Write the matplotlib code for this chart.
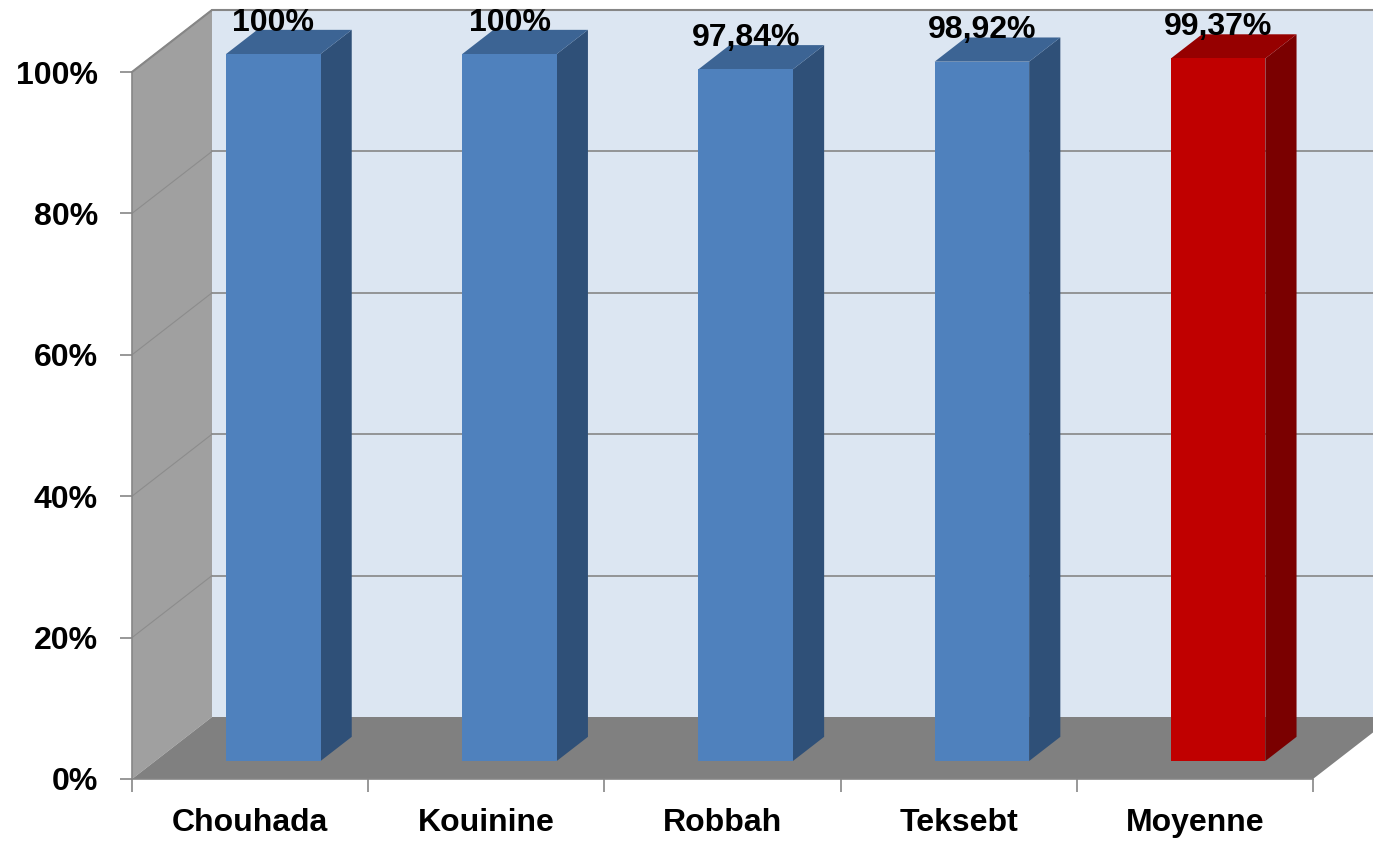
import matplotlib
matplotlib.use("Agg")
import matplotlib.pyplot as plt
from matplotlib.patches import Polygon

plt.rcParams['font.family'] = ['Liberation Sans', 'DejaVu Sans']

categories = ["Chouhada", "Kouinine", "Robbah", "Teksebt", "Moyenne"]
values = [100.0, 100.0, 97.84, 98.92, 99.37]
labels = ["100%", "100%", "97,84%", "98,92%", "99,37%"]
yticks = [0, 20, 40, 60, 80, 100]
ytick_labels = ["0%", "20%", "40%", "60%", "80%", "100%"]

# colours (front, side, top)
blue = ("#4F81BD", "#2F5078", "#3C6494")
red = ("#C00000", "#7A0000", "#960000")
bar_colors = [blue, blue, blue, blue, red]

W, H = 1373, 848
fig = plt.figure(figsize=(W / 100, H / 100), dpi=100)
# front plane of the 3D box
x0p, x1p, y0p, y1p = 132, 1313, 779, 72
ax = fig.add_axes([x0p / W, (H - y0p) / H, (x1p - x0p) / W, (y0p - y1p) / H])
n = len(categories)
ax.set_xlim(0, n)
ax.set_ylim(0, 100)

# depth offset (data units)
px_x = (x1p - x0p) / n
px_y = (y0p - y1p) / 100
dx = 80 / px_x
dy = 62 / px_y
f1, f2 = 0.29, 0.68
bw = 0.4

grid_c = "#868686"
fs = 23

# back wall
ax.add_patch(Polygon([(dx, dy), (n + dx, dy), (n + dx, 100 + dy), (dx, 100 + dy)],
                     closed=True, facecolor="#DCE6F2", edgecolor="none", clip_on=False, zorder=1))
# left wall
ax.add_patch(Polygon([(0, 0), (dx, dy), (dx, 100 + dy), (0, 100)],
                     closed=True, facecolor="#A0A0A0", edgecolor="none", clip_on=False, zorder=1))
# floor
ax.add_patch(Polygon([(0, 0), (n, 0), (n + dx, dy), (dx, dy)],
                     closed=True, facecolor="#808080", edgecolor="none", clip_on=False, zorder=2))

# gridlines
for v in yticks[1:]:
    ax.plot([dx, n + dx], [v + dy, v + dy], color=grid_c, lw=1.2, clip_on=False, zorder=1.5)
    ax.plot([0, dx], [v, v + dy], color="#8C8C8C", lw=0.8, clip_on=False, zorder=1.5)
# top edge of walls
ax.plot([0, dx, n + dx], [100, 100 + dy, 100 + dy], color=grid_c, lw=1.5, clip_on=False, zorder=1.6)

# bars
for i, (v, (cf, cs, ct), lab) in enumerate(zip(values, bar_colors, labels)):
    xa = i + 0.5 - bw / 2
    xb = i + 0.5 + bw / 2
    front = [(xa + f1 * dx, f1 * dy), (xb + f1 * dx, f1 * dy),
             (xb + f1 * dx, v + f1 * dy), (xa + f1 * dx, v + f1 * dy)]
    side = [(xb + f1 * dx, f1 * dy), (xb + f2 * dx, f2 * dy),
            (xb + f2 * dx, v + f2 * dy), (xb + f1 * dx, v + f1 * dy)]
    top = [(xa + f1 * dx, v + f1 * dy), (xb + f1 * dx, v + f1 * dy),
           (xb + f2 * dx, v + f2 * dy), (xa + f2 * dx, v + f2 * dy)]
    ax.add_patch(Polygon(side, closed=True, facecolor=cs, edgecolor="none", clip_on=False, zorder=3))
    ax.add_patch(Polygon(top, closed=True, facecolor=ct, edgecolor="none", clip_on=False, zorder=3))
    ax.add_patch(Polygon(front, closed=True, facecolor=cf, edgecolor="none", clip_on=False, zorder=4))
    ax.text(i + 0.5 + f1 * dx, v + f2 * dy + 1.0, lab, ha="center", va="center",
            fontsize=fs, fontweight="bold", color="black", zorder=6, clip_on=False)

# axes styling
for s in ["top", "right"]:
    ax.spines[s].set_visible(False)
ax.spines["left"].set_color(grid_c)
ax.spines["bottom"].set_color(grid_c)
ax.spines["left"].set_linewidth(1.2)
ax.spines["bottom"].set_linewidth(1.2)
ax.spines["left"].set_zorder(5)
ax.spines["bottom"].set_zorder(5)
ax.patch.set_visible(False)

ax.set_yticks(yticks)
ax.set_yticklabels(ytick_labels, fontsize=fs, fontweight="bold")
ax.tick_params(axis="y", length=8.6, width=1.2, color=grid_c, pad=16)

ax.set_xticks([i + 0.5 for i in range(n)])
ax.set_xticklabels(categories, fontsize=fs, fontweight="bold")
ax.set_xticks(list(range(n + 1)), minor=True)
ax.tick_params(axis="x", which="major", length=0, pad=21)
ax.tick_params(axis="x", which="minor", length=9.4, width=1.2, color=grid_c)

fig.savefig("out.png", dpi=100, facecolor="white")
